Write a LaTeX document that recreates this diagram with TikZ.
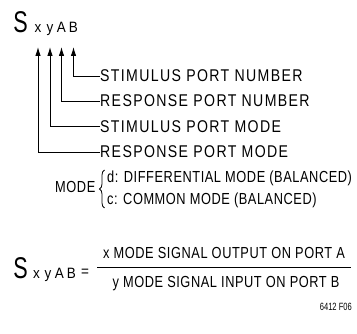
\documentclass[tikz,border=0pt]{standalone}
\usepackage{fontspec}
\setmainfont{Liberation Sans}[FakeStretch=0.85]
\newfontfamily\labfont{Liberation Sans}[FakeStretch=0.83, LetterSpace=8]
\newfontfamily\modefont{Liberation Sans}[FakeStretch=0.8, LetterSpace=3.5]
\newfontfamily\symfont{Liberation Sans}[FakeStretch=0.72]
\newfontfamily\subfont{Liberation Sans}[FakeStretch=0.9]
\usetikzlibrary{arrows.meta,decorations.pathreplacing}

\tikzset{
  big/.style={inner sep=0pt, anchor=base, font=\symfont\fontsize{30}{32}\selectfont},
  sub/.style={inner sep=0pt, anchor=base, font=\subfont\fontsize{15}{16}\selectfont},
  lbl/.style={inner sep=0pt, anchor=base west, font=\labfont\fontsize{17}{19}\selectfont},
  mlbl/.style={inner sep=0pt, anchor=base west, font=\modefont\fontsize{16}{18}\selectfont},
  pin/.style={line width=0.9pt, -{Latex[length=9pt,width=5.5pt]}},
}

\begin{document}
\begin{tikzpicture}[x=1pt, y=-1pt, line join=miter]

  %% ════ top: S xyAB with pointer lines ════
  \node[big] (s1) at (20.5,33) {S};
  \node[sub] (x1) at (38,33) {x};
  \node[sub] (y1) at (50,33) {y};
  \node[sub] (a1) at (61.5,33) {A};
  \node[sub] (b1) at (73.5,33) {B};

  \node[lbl] (stimnum)  at (100,82)  {STIMULUS PORT NUMBER};
  \node[lbl] (respnum)  at (100,107) {RESPONSE PORT NUMBER};
  \node[lbl] (stimmode) at (100,132.5) {STIMULUS PORT MODE};
  \node[lbl] (respmode) at (100,158) {RESPONSE PORT MODE};

  \draw[pin] (stimnum.west  |- 0,76)    -- (b1 |- 0,76)    -- (b1 |- 0,47);
  \draw[pin] (respnum.west  |- 0,101)   -- (a1 |- 0,101)   -- (a1 |- 0,47);
  \draw[pin] (stimmode.west |- 0,126.5) -- (y1 |- 0,126.5) -- (y1 |- 0,47);
  \draw[pin] (respmode.west |- 0,152)   -- (x1 |- 0,152)   -- (x1 |- 0,47);

  %% ════ MODE brace ════
  \node[mlbl, anchor=base east] (mode) at (95.5,193) {MODE};
  \draw[line width=0.8pt, decorate, decoration={brace, amplitude=5pt}]
    (104.5,208) -- (104.5,170);
  \node[mlbl] (diff) at (107,183) {d: DIFFERENTIAL MODE (BALANCED)};
  \node[mlbl] (comm) at (107,205) {c: COMMON MODE (BALANCED)};

  %% ════ definition ════
  \node[big] (s2) at (20.5,278.5) {S};
  \node[sub] (x2) at (36.5,278.5) {x};
  \node[sub] (y2) at (48,278.5) {y};
  \node[sub] (a2) at (59.5,278.5) {A};
  \node[sub] (b2) at (71.5,278.5) {B};
  \node[sub] (eq) at (85,277) {=};
  \node[mlbl, anchor=base] (num) at (224,259) {x MODE SIGNAL OUTPUT ON PORT A};
  \node[mlbl, anchor=base] (den) at (226,288) {y MODE SIGNAL INPUT ON PORT B};
  \draw[line width=0.9pt] (97,267.5) -- (351,267.5);

  \node[inner sep=0pt, anchor=base east, font=\symfont\fontsize{10.5}{12}\selectfont] (fig) at (352,310.5) {6412 F06};

  % 钉死画布
  \pgfresetboundingbox
  \path[use as bounding box] (0,0) rectangle (357,334);
\end{tikzpicture}
\end{document}
